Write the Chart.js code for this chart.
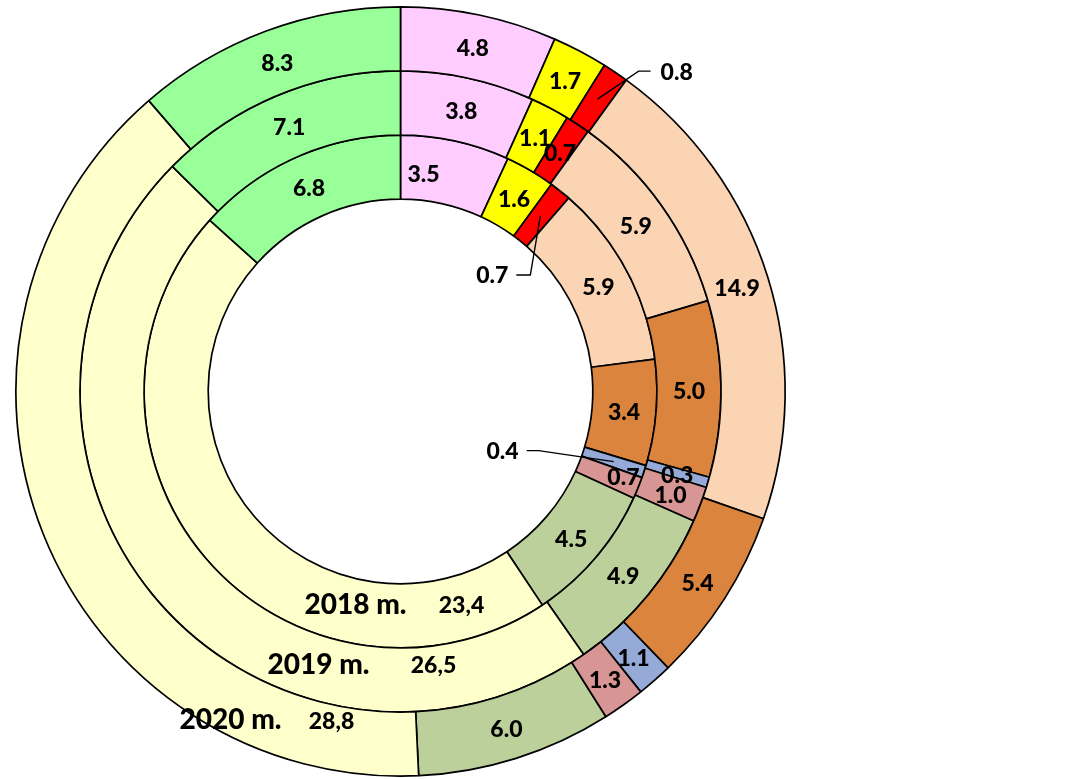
<!DOCTYPE html>
<html lang="lt">
<head>
    <meta charset="UTF-8">
    <title>2018–2020 m.</title>
    <script src="https://cdn.jsdelivr.net/npm/chart.js"></script>
    <style>
        body {
            margin: 0;
            padding: 0;
            background-color: #ffffff;
        }
        #grafikas {
            display: block;
        }
    </style>
</head>
<body>
    <canvas id="grafikas" width="1088" height="779"></canvas>

    <script>
        // Duomenys (išorinis žiedas - 2020 m., vidinis - 2018 m.)
        const kategorijos = ['1', '2', '3', '4', '5', '6', '7', '8', '9', '10'];
        const metai = ['2020 m.', '2019 m.', '2018 m.'];
        const reiksmes2020 = [4.8, 1.7, 0.8, 14.9, 5.4, 1.1, 1.3, 6.0, 28.8, 8.3];
        const reiksmes2019 = [3.8, 1.1, 0.7, 5.9, 5.0, 0.3, 1.0, 4.9, 26.5, 7.1];
        const reiksmes2018 = [3.5, 1.6, 0.7, 5.9, 3.4, 0.4, 0.7, 4.5, 23.4, 6.8];
        const spalvos = ['#FFCCFF', '#FFFF00', '#FF0000', '#FBD4B4', '#DA843E',
                         '#95AAD6', '#D79594', '#BBD09A', '#FFFFCC', '#99FF99'];

        // kategorija, kurios etiketė rodoma kartu su metais (kablelis vietoj taško)
        const metuKategorija = 8;

        const sriftas = '900 23px Lato';
        const metuSriftas = '900 28px Lato';

        // etikečių pataisos (dx, dy nuo segmento centro)
        const poslinkiai = {
            '2-0': [-25, 2],
            '2-6': [15, 2],
            '2-7': [0, 2]
        };
        // etiketės su rodyklėmis: alkūnė ir horizontali linija
        const rodykles = {
            '0-2': { dx: 41, dy: -28, h: 12 },
            '2-2': { dx: -10, dy: 59, h: -14 },
            '2-5': { dx: -75, dy: -11, h: -12 }
        };
        // metų etikečių vieta nuo centro
        const metuVietos = [
            { metai: [-170, 328], reiksme: [-69, 330] },
            { metai: [-82, 273], reiksme: [33, 274] },
            { metai: [-45, 213], reiksme: [61, 214] }
        ];

        const etiketes = {
            id: 'etiketes',
            afterDatasetsDraw(chart) {
                const ctx = chart.ctx;
                ctx.save();
                ctx.fillStyle = '#000';
                ctx.strokeStyle = '#000';
                ctx.lineWidth = 1.4;
                ctx.textBaseline = 'middle';
                chart.data.datasets.forEach((ds, d) => {
                    const meta = chart.getDatasetMeta(d);
                    meta.data.forEach((arc, i) => {
                        const v = ds.data[i];
                        const key = d + '-' + i;
                        if (i === metuKategorija) {
                            const vieta = metuVietos[d];
                            ctx.textAlign = 'center';
                            ctx.font = metuSriftas;
                            ctx.fillText(metai[d], arc.x + vieta.metai[0], arc.y + vieta.metai[1]);
                            ctx.font = sriftas;
                            ctx.fillText(v.toFixed(1).replace('.', ','), arc.x + vieta.reiksme[0], arc.y + vieta.reiksme[1]);
                            return;
                        }
                        const p = arc.tooltipPosition();
                        ctx.font = sriftas;
                        if (rodykles[key]) {
                            const r = rodykles[key];
                            const ex = p.x + r.dx, ey = p.y + r.dy;
                            ctx.beginPath();
                            ctx.moveTo(p.x, p.y);
                            ctx.lineTo(ex, ey);
                            ctx.lineTo(ex + r.h, ey);
                            ctx.stroke();
                            ctx.textAlign = r.h > 0 ? 'left' : 'right';
                            ctx.fillText(v.toFixed(1), ex + r.h + (r.h > 0 ? 10 : -8), ey + 1);
                            return;
                        }
                        const o = poslinkiai[key] || [0, 2];
                        ctx.textAlign = 'center';
                        ctx.fillText(v.toFixed(1), p.x + o[0], p.y + o[1]);
                    });
                });
                ctx.restore();
            }
        };

        const ctx = document.getElementById('grafikas').getContext('2d');
        new Chart(ctx, {
            type: 'doughnut',
            data: {
                labels: kategorijos,
                datasets: [reiksmes2020, reiksmes2019, reiksmes2018].map((data, i) => ({
                    label: metai[i],
                    data,
                    backgroundColor: spalvos,
                    borderColor: '#000',
                    borderWidth: 1.7
                }))
            },
            options: {
                responsive: false,
                animation: false,
                cutout: '50%',
                layout: {
                    padding: { left: 15, top: 6, right: 302, bottom: 2 }
                },
                plugins: {
                    legend: { display: false },
                    tooltip: { enabled: false }
                }
            },
            plugins: [etiketes]
        });
    </script>
</body>
</html>
